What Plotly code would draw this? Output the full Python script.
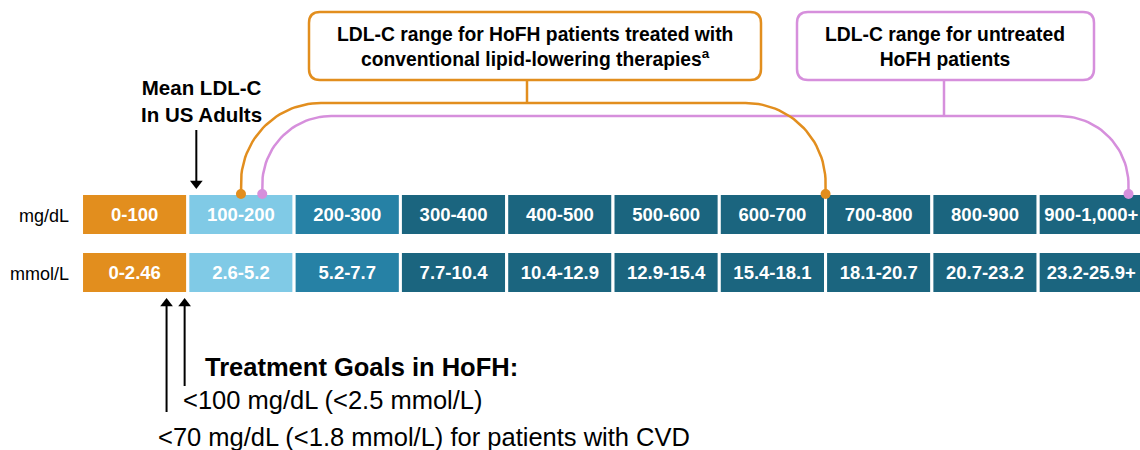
import numpy as np
import plotly.graph_objects as go

# ---------------- data ----------------
mg_labels = ["0-100", "100-200", "200-300", "300-400", "400-500",
             "500-600", "600-700", "700-800", "800-900", "900-1,000+"]
mmol_labels = ["0-2.46", "2.6-5.2", "5.2-7.7", "7.7-10.4", "10.4-12.9",
               "12.9-15.4", "15.4-18.1", "18.1-20.7", "20.7-23.2", "23.2-25.9+"]
bin_low = [0, 100, 200, 300, 400, 500, 600, 700, 800, 900]
bin_high = [100, 200, 300, 400, 500, 600, 700, 800, 900, 1000]
cell_colors = ["#E28E1E", "#80CAE6", "#2681A5"] + ["#1B657F"] * 7

treated_range = [150, 700]      # mg/dL, conventional therapy
untreated_range = [170, 985]    # mg/dL, untreated
mean_us_adults = 108            # mg/dL
goal_values = [80, 97]          # arrow positions (goal markers)

ORANGE = "#E28E1E"
PINK = "#D68FDC"
FONT = "Arial, Liberation Sans, sans-serif"

W, H = 1140, 450
XR = [-76.7, 995.8]


def to_px(v):
    return (v - XR[0]) / (XR[1] - XR[0]) * W


fig = go.Figure()

row_y = {"mg": 214.5, "mmol": 272.5}
widths = [h - l for l, h in zip(bin_low, bin_high)]
centers = [(l + h) / 2 for l, h in zip(bin_low, bin_high)]

for key, labels in (("mg", mg_labels), ("mmol", mmol_labels)):
    fig.add_trace(go.Bar(
        orientation="h", base=bin_low, x=widths, y=[row_y[key]] * len(bin_low),
        width=42, marker=dict(color=cell_colors, line=dict(color="white", width=3)),
        hoverinfo="skip", showlegend=False))
    fig.add_trace(go.Scatter(
        x=centers, y=[row_y[key] + 1.5] * len(centers), mode="text", text=labels,
        textfont=dict(color="white", size=18.5, family=FONT, weight="bold"),
        hoverinfo="skip", showlegend=False))


def arc_points(xa, xb, yh, r, ybase):
    pts_x, pts_y = [xa], [ybase]
    t = np.linspace(np.pi, 1.5 * np.pi, 30)
    cx, cy = xa + r, yh + r
    pts_x += list(cx + r * np.cos(t)); pts_y += list(cy + r * np.sin(t))
    t = np.linspace(1.5 * np.pi, 2 * np.pi, 30)
    cx, cy = xb - r, yh + r
    pts_x += list(cx + r * np.cos(t)); pts_y += list(cy + r * np.sin(t))
    pts_x.append(xb); pts_y.append(ybase)
    return pts_x, pts_y


for rng, col, yh, r in ((untreated_range, PINK, 116, 69), (treated_range, ORANGE, 103, 80)):
    xa, xb = to_px(rng[0]), to_px(rng[1])
    px, py = arc_points(xa, xb, yh, r, 194)
    fig.add_trace(go.Scatter(x=px, y=py, mode="lines", xaxis="x2",
                             line=dict(color=col, width=2.5),
                             hoverinfo="skip", showlegend=False))
    fig.add_trace(go.Scatter(x=[xa, xb], y=[194, 194], mode="markers", xaxis="x2",
                             marker=dict(color=col, size=10),
                             hoverinfo="skip", showlegend=False))


def add_arrow(x, y_tail, y_tip, down):
    head = 5.5
    yc = y_tip - head if down else y_tip + head
    fig.add_trace(go.Scatter(x=[x, x], y=[y_tail, yc], mode="lines", xaxis="x2",
                             line=dict(color="black", width=2),
                             hoverinfo="skip", showlegend=False))
    fig.add_trace(go.Scatter(x=[x], y=[yc], mode="markers", xaxis="x2",
                             marker=dict(color="black", size=11,
                                         symbol="triangle-down" if down else "triangle-up"),
                             hoverinfo="skip", showlegend=False))


add_arrow(to_px(mean_us_adults), 130, 189, True)
for gv, ybot in zip(goal_values, (412, 386)):
    add_arrow(to_px(gv), ybot, 298, False)


def rrect(x0, y0, x1, y1, r):
    return (f"M {x0+r},{y0} L {x1-r},{y0} Q {x1},{y0} {x1},{y0+r} "
            f"L {x1},{y1-r} Q {x1},{y1} {x1-r},{y1} L {x0+r},{y1} "
            f"Q {x0},{y1} {x0},{y1-r} L {x0},{y0+r} Q {x0},{y0} {x0+r},{y0} Z")


shapes = [
    dict(type="path", path=rrect(309, 12, 761, 80, 11), xref="x2", yref="y",
         line=dict(color=ORANGE, width=2.5), fillcolor="white"),
    dict(type="path", path=rrect(797, 12, 1094, 80, 11), xref="x2", yref="y",
         line=dict(color=PINK, width=2.5), fillcolor="white"),
    dict(type="line", x0=527, x1=527, y0=80, y1=103, xref="x2", yref="y",
         line=dict(color=ORANGE, width=2.5)),
    dict(type="line", x0=944, x1=944, y0=80, y1=116, xref="x2", yref="y",
         line=dict(color=PINK, width=2.5)),
]

ann = []
ann.append(dict(x=535, y=47, xref="x2", yref="y", showarrow=False,
                text="LDL-C range for HoFH patients treated with<br>conventional lipid-lowering therapies<sup>a</sup>",
                font=dict(size=19.3, family=FONT, color="black", weight="bold")))
ann.append(dict(x=945, y=47, xref="x2", yref="y", showarrow=False,
                text="LDL-C range for untreated<br>HoFH patients",
                font=dict(size=19.3, family=FONT, color="black", weight="bold")))
ann.append(dict(x=201, y=101, xref="x2", yref="y", showarrow=False,
                text="Mean LDL-C<br>In US Adults",
                font=dict(size=20.5, family=FONT, color="black", weight="bold")))
ann.append(dict(x=71, y=row_y["mg"] + 1.5, xref="x2", yref="y", showarrow=False, xanchor="right",
                text="mg/dL", font=dict(size=18, family=FONT, color="black")))
ann.append(dict(x=71, y=row_y["mmol"] + 1.5, xref="x2", yref="y", showarrow=False, xanchor="right",
                text="mmol/L", font=dict(size=18, family=FONT, color="black")))
ann.append(dict(x=203, y=367, xref="x2", yref="y", showarrow=False, xanchor="left",
                text="Treatment Goals in HoFH:",
                font=dict(size=25.5, family=FONT, color="black", weight="bold")))
ann.append(dict(x=181, y=400, xref="x2", yref="y", showarrow=False, xanchor="left",
                text="&lt;100 mg/dL (&lt;2.5 mmol/L)",
                font=dict(size=25.5, family=FONT, color="black")))
ann.append(dict(x=156, y=437, xref="x2", yref="y", showarrow=False, xanchor="left",
                text="&lt;70 mg/dL (&lt;1.8 mmol/L) for patients with CVD",
                font=dict(size=25.5, family=FONT, color="black")))

fig.update_layout(
    width=W, height=H, margin=dict(l=0, r=0, t=0, b=0),
    paper_bgcolor="white", plot_bgcolor="white", barmode="overlay",
    xaxis=dict(range=XR, visible=False, fixedrange=True),
    xaxis2=dict(range=[0, W], visible=False, overlaying="x", anchor="y", fixedrange=True),
    yaxis=dict(range=[H, 0], visible=False, fixedrange=True),
    shapes=shapes, annotations=ann, showlegend=False,
)

fig.write_html("out.html", config={"displayModeBar": False},
               post_script="document.body.style.margin='0';document.body.style.overflow='hidden';")
